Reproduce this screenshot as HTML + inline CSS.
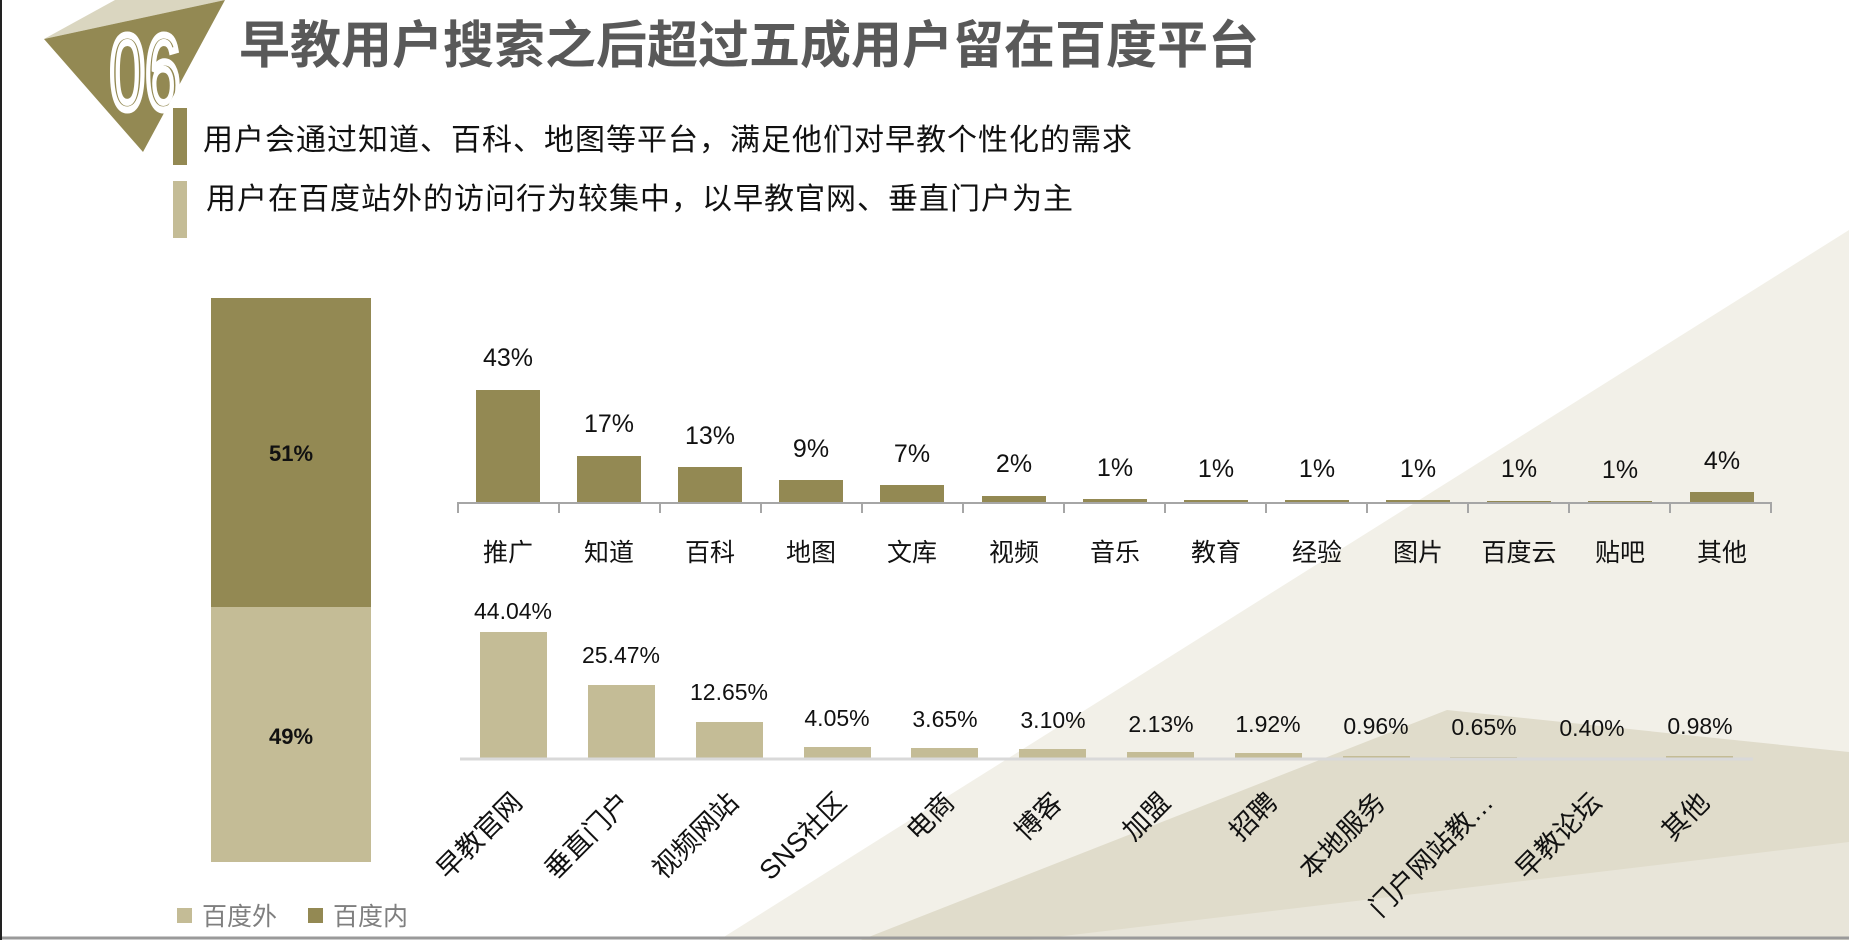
<!DOCTYPE html>
<html><head><meta charset="utf-8"><style>
html,body{margin:0;padding:0;background:#fff;}
svg{display:block;}
text{font-family:"Liberation Sans","Noto Sans CJK SC",sans-serif;}
</style></head><body>
<svg width="1849" height="940" viewBox="0 0 1849 940" xmlns="http://www.w3.org/2000/svg">
<rect width="1849" height="940" fill="#fff"/>
<polygon points="719,940 1849,230 1849,940" fill="#f2f0e8"/>
<polygon points="1447,710 1849,752 1849,940 861,940" fill="#e0dccb"/>
<polygon points="1849,842 1849,940 1030,940" fill="#e8e5d9"/>
<line x1="0" y1="938" x2="1849" y2="938" stroke="#9a9a9a" stroke-width="3"/>
<line x1="1" y1="0" x2="1" y2="940" stroke="#222" stroke-width="2"/>

<polygon points="44,39 115,0 225,0" fill="#dad6c0"/>
<polygon points="44,39 225,0 143,152" fill="#938953"/>
<text x="145" y="109" font-size="106" text-anchor="middle" fill="none" stroke="#fff" stroke-width="7" transform="translate(145,0) scale(0.6,1) translate(-145,0)" style="font-family:'Liberation Sans Narrow','Liberation Sans',sans-serif">06</text>

<text x="239" y="63" font-size="51" font-weight="bold" fill="#595959">早教用户搜索之后超过五成用户留在百度平台</text>

<rect x="173" y="108" width="14" height="57" fill="#938953"/>
<rect x="173" y="181" width="14" height="57" fill="#c4bc96"/>
<text x="203" y="150" font-size="30" letter-spacing="1" fill="#111">用户会通过知道、百科、地图等平台，满足他们对早教个性化的需求</text>
<text x="206" y="209" font-size="30" letter-spacing="1" fill="#111">用户在百度站外的访问行为较集中，以早教官网、垂直门户为主</text>

<rect x="211" y="298" width="160" height="309" fill="#938953"/>
<rect x="211" y="607" width="160" height="255" fill="#c4bc96"/>
<text x="291" y="461" font-size="22" font-weight="bold" text-anchor="middle" fill="#111">51%</text>
<text x="291" y="744" font-size="22" font-weight="bold" text-anchor="middle" fill="#111">49%</text>

<g fill="#938953">
<rect x="476" y="390" width="64" height="112"/>
<rect x="577" y="456" width="64" height="46"/>
<rect x="678" y="467" width="64" height="35"/>
<rect x="779" y="480" width="64" height="22"/>
<rect x="880" y="485" width="64" height="17"/>
<rect x="982" y="496" width="64" height="6"/>
<rect x="1083" y="499" width="64" height="3"/>
<rect x="1184" y="500" width="64" height="2"/>
<rect x="1285" y="500" width="64" height="2"/>
<rect x="1386" y="500" width="64" height="2"/>
<rect x="1487" y="501" width="64" height="1"/>
<rect x="1588" y="501" width="64" height="1"/>
<rect x="1690" y="492" width="64" height="10"/>
</g>
<g stroke="#a6a6a6" stroke-width="2">
<line x1="457" y1="503" x2="1772" y2="503"/>
<line x1="458" y1="503" x2="458" y2="513"/><line x1="559" y1="503" x2="559" y2="513"/><line x1="660" y1="503" x2="660" y2="513"/><line x1="761" y1="503" x2="761" y2="513"/><line x1="862" y1="503" x2="862" y2="513"/><line x1="963" y1="503" x2="963" y2="513"/><line x1="1064" y1="503" x2="1064" y2="513"/><line x1="1165" y1="503" x2="1165" y2="513"/><line x1="1266" y1="503" x2="1266" y2="513"/><line x1="1367" y1="503" x2="1367" y2="513"/><line x1="1468" y1="503" x2="1468" y2="513"/><line x1="1569" y1="503" x2="1569" y2="513"/><line x1="1670" y1="503" x2="1670" y2="513"/><line x1="1771" y1="503" x2="1771" y2="513"/>
</g>
<g font-size="25" text-anchor="middle" fill="#111">
<text x="508" y="366">43%</text><text x="609" y="432">17%</text><text x="710" y="444">13%</text><text x="811" y="457">9%</text><text x="912" y="462">7%</text><text x="1014" y="472">2%</text><text x="1115" y="476">1%</text><text x="1216" y="477">1%</text><text x="1317" y="477">1%</text><text x="1418" y="477">1%</text><text x="1519" y="477">1%</text><text x="1620" y="478">1%</text><text x="1722" y="469">4%</text>
</g>
<g font-size="25" text-anchor="middle" fill="#111">
<text x="508" y="561">推广</text><text x="609" y="561">知道</text><text x="710" y="561">百科</text><text x="811" y="561">地图</text><text x="912" y="561">文库</text><text x="1014" y="561">视频</text><text x="1115" y="561">音乐</text><text x="1216" y="561">教育</text><text x="1317" y="561">经验</text><text x="1418" y="561">图片</text><text x="1519" y="561">百度云</text><text x="1620" y="561">贴吧</text><text x="1722" y="561">其他</text>
</g>

<g fill="#c4bc96">
<rect x="480" y="632" width="67" height="127"/>
<rect x="588" y="685" width="67" height="74"/>
<rect x="696" y="722" width="67" height="37"/>
<rect x="804" y="747" width="67" height="12"/>
<rect x="911" y="748" width="67" height="11"/>
<rect x="1019" y="749" width="67" height="10"/>
<rect x="1127" y="752" width="67" height="7"/>
<rect x="1235" y="753" width="67" height="6"/>
<rect x="1343" y="756" width="67" height="3"/>
<rect x="1450" y="757" width="67" height="2"/>
<rect x="1558" y="758" width="67" height="1"/>
<rect x="1666" y="756" width="67" height="3"/>
</g>
<line x1="460" y1="759" x2="1753" y2="759" stroke="#d9d9d9" stroke-width="3"/>
<g font-size="23" text-anchor="middle" fill="#111">
<text x="513" y="619">44.04%</text><text x="621" y="663">25.47%</text><text x="729" y="700">12.65%</text><text x="837" y="726">4.05%</text><text x="945" y="727">3.65%</text><text x="1053" y="728">3.10%</text><text x="1161" y="732">2.13%</text><text x="1268" y="732">1.92%</text><text x="1376" y="734">0.96%</text><text x="1484" y="735">0.65%</text><text x="1592" y="736">0.40%</text><text x="1700" y="734">0.98%</text>
</g>
<g font-size="27" text-anchor="end" fill="#111">
<text transform="translate(524,804) rotate(-45)">早教官网</text>
<text transform="translate(632,804) rotate(-45)">垂直门户</text>
<text transform="translate(740,804) rotate(-45)">视频网站</text>
<text transform="translate(848,804) rotate(-45)">SNS社区</text>
<text transform="translate(956,804) rotate(-45)">电商</text>
<text transform="translate(1064,804) rotate(-45)">博客</text>
<text transform="translate(1172,804) rotate(-45)">加盟</text>
<text transform="translate(1279,804) rotate(-45)">招聘</text>
<text transform="translate(1387,804) rotate(-45)">本地服务</text>
<text transform="translate(1495,804) rotate(-45)">门户网站教…</text>
<text transform="translate(1603,804) rotate(-45)">早教论坛</text>
<text transform="translate(1711,804) rotate(-45)">其他</text>
</g>

<rect x="177" y="908" width="15" height="15" fill="#c4bc96"/>
<text x="202" y="925" font-size="25" fill="#7f7f7f">百度外</text>
<rect x="308" y="908" width="15" height="15" fill="#938953"/>
<text x="333" y="925" font-size="25" fill="#7f7f7f">百度内</text>
</svg>
</body></html>
